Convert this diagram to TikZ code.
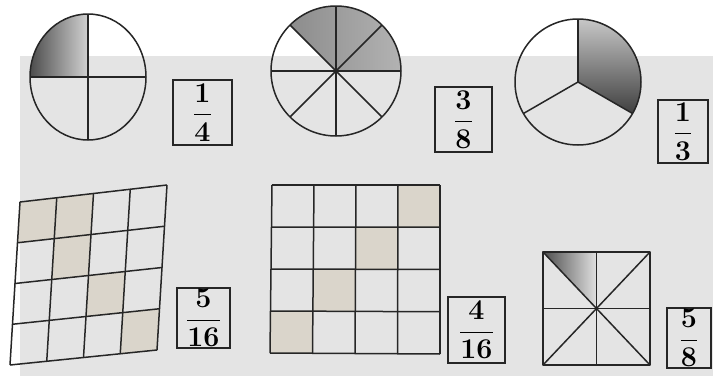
\documentclass[tikz,border=0pt]{standalone}
\usetikzlibrary{calc}
\definecolor{bggray}{RGB}{228,228,228}
\definecolor{cellgray}{RGB}{218,213,203}
\tikzset{
  part/.style={line width=1.5pt, draw=black!85, line join=round},
  fracbox/.style={draw=black!85, line width=1.3pt, inner sep=1pt, font=\Huge},
}
\newcommand{\bigfrac}[2]{\scalebox{1.15}{$\displaystyle\frac{\mathbf{#1}}{\mathbf{#2}}$}}
\begin{document}
\begin{tikzpicture}[x=1pt, y=1pt]
  \useasboundingbox (0,0) rectangle (713,376);
  % 背景
  \fill[white] (0,0) rectangle (713,376);
  \fill[bggray] (20,0) rectangle (713,320);

  % 圆 1/4
  \coordinate (c1) at (88,299);
  \shade[left color=black!70, right color=black!18] (c1) -- ++(0,63)
    arc[start angle=90, end angle=180, x radius=58, y radius=63] -- cycle;
  \draw[part] (c1) ellipse [x radius=58, y radius=63];
  \draw[part] (c1) ++(0,63) -- ++(0,-126);
  \draw[part] (c1) ++(-58,0) -- ++(116,0);
  \node[fracbox, minimum width=59pt, minimum height=65pt] (f1) at (202.5,263.5)
    {\bigfrac{1}{4}};

  % 圆 3/8
  \coordinate (c2) at (336,305);
  \shade[left color=black!45, right color=black!30] (c2) -- ++(0:65)
    arc[start angle=0, end angle=135, radius=65] -- cycle;
  \draw[part] (c2) circle (65);
  \foreach \a in {0,45,...,315}
    \draw[part] (c2) -- ++(\a:65);
  \node[fracbox, minimum width=57pt, minimum height=65pt] (f2) at (463.5,256.5)
    {\bigfrac{3}{8}};

  % 圆 1/3
  \coordinate (c3) at (578,294);
  \shade[top color=black!22, bottom color=black!75] (c3) -- ++(90:63)
    arc[start angle=90, end angle=-30, radius=63] -- cycle;
  \draw[part] (c3) circle (63);
  \foreach \a in {90,210,330}
    \draw[part] (c3) -- ++(\a:63);
  \node[fracbox, minimum width=50pt, minimum height=63pt] (f3) at (683,244.5)
    {\bigfrac{1}{3}};

  % 方格 5/16
  \coordinate (g1tl) at (20,174);
  \coordinate (g1tr) at (167,191);
  \coordinate (g1bl) at (10,11);
  \coordinate (g1br) at (157,26);
  \foreach \i in {0,...,4} {
    \coordinate (g1t\i) at ($(g1tl)!\i/4!(g1tr)$);
    \coordinate (g1b\i) at ($(g1bl)!\i/4!(g1br)$);
  }
  \foreach \i in {0,...,4}
    \foreach \j in {0,...,4}
      \coordinate (g1-\i-\j) at ($(g1t\i)!\j/4!(g1b\i)$);
  \foreach \c/\r/\cn/\rn in {0/0/1/1, 1/0/2/1, 1/1/2/2, 2/2/3/3, 3/3/4/4}
    \fill[cellgray] (g1-\c-\r) -- (g1-\cn-\r) -- (g1-\cn-\rn) -- (g1-\c-\rn) -- cycle;
  \foreach \i in {0,...,4} {
    \draw[part] (g1-\i-0) -- (g1-\i-4);
    \draw[part] (g1-0-\i) -- (g1-4-\i);
  }
  \node[fracbox, minimum width=53pt, minimum height=60pt] (f4) at (203.5,58)
    {\bigfrac{5}{16}};

  % 方格 4/16
  \coordinate (g2tl) at (272,191);
  \coordinate (g2tr) at (440,191);
  \coordinate (g2bl) at (270,23);
  \coordinate (g2br) at (440,22);
  \foreach \i in {0,...,4} {
    \coordinate (g2t\i) at ($(g2tl)!\i/4!(g2tr)$);
    \coordinate (g2b\i) at ($(g2bl)!\i/4!(g2br)$);
  }
  \foreach \i in {0,...,4}
    \foreach \j in {0,...,4}
      \coordinate (g2-\i-\j) at ($(g2t\i)!\j/4!(g2b\i)$);
  \foreach \c/\r/\cn/\rn in {3/0/4/1, 2/1/3/2, 1/2/2/3, 0/3/1/4}
    \fill[cellgray] (g2-\c-\r) -- (g2-\cn-\r) -- (g2-\cn-\rn) -- (g2-\c-\rn) -- cycle;
  \foreach \i in {0,...,4} {
    \draw[part] (g2-\i-0) -- (g2-\i-4);
    \draw[part] (g2-0-\i) -- (g2-4-\i);
  }
  \node[fracbox, minimum width=57pt, minimum height=66pt] (f5) at (476.5,46)
    {\bigfrac{4}{16}};

  % 正方形 5/8
  \coordinate (s3) at (596.5,67.5);
  \coordinate (s3tl) at (543,124);
  \coordinate (s3tr) at (650,124);
  \coordinate (s3bl) at (543,11);
  \coordinate (s3br) at (650,11);
  \shade[left color=black!70, right color=black!12]
    (s3tl) -- ($(s3tl)!.5!(s3tr)$) -- (s3) -- cycle;
  \draw[part] (s3tl) -- (s3tr) -- (s3br) -- (s3bl) -- cycle;
  \draw[part] (s3tl) -- (s3br);
  \draw[part] (s3tr) -- (s3bl);
  \draw[part] ($(s3tl)!.5!(s3tr)$) -- ($(s3bl)!.5!(s3br)$);
  \draw[part] ($(s3tl)!.5!(s3bl)$) -- ($(s3tr)!.5!(s3br)$);
  \node[fracbox, minimum width=44pt, minimum height=60pt] (f6) at (689,38)
    {\bigfrac{5}{8}};
\end{tikzpicture}
\end{document}
